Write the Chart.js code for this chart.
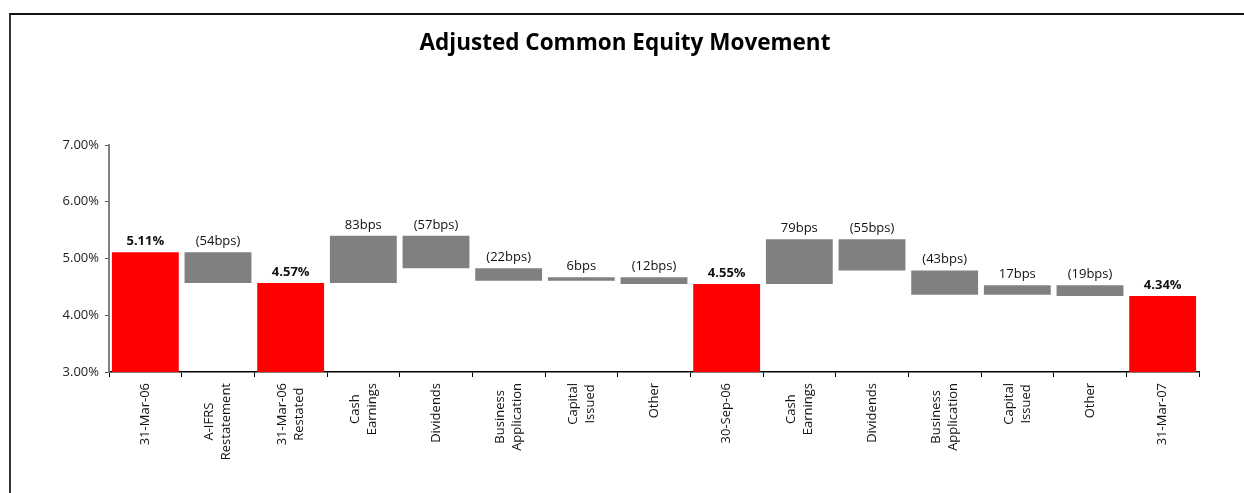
<!DOCTYPE html>
<html>
<head>
<meta charset="utf-8">
<script src="https://cdn.jsdelivr.net/npm/chart.js@4/dist/chart.umd.min.js"></script>
<style>
  html, body { margin: 0; padding: 0; background: #fff; overflow: hidden; }
  #wrap { position: relative; width: 1244px; height: 493px; }
  #frame { position: absolute; left: 9px; top: 13px; width: 1300px; height: 600px;
           border-left: 2px solid #333; border-top: 2px solid #111; box-sizing: border-box; }
  canvas { position: absolute; left: 0; top: 0; }
</style>
</head>
<body>
<div id="wrap">
  <div id="frame"></div>
  <canvas id="c" width="1244" height="493"></canvas>
</div>
<script>
// ---- data ----
const chartTitle = 'Adjusted Common Equity Movement';
const categories = [
  ["31-Mar-06"], ["A-IFRS", "Restatement"], ["31-Mar-06", "Restated"],
  ["Cash", "Earnings"], ["Dividends"], ["Business", "Application"],
  ["Capital", "Issued"], ["Other"], ["30-Sep-06"],
  ["Cash", "Earnings"], ["Dividends"], ["Business", "Application"],
  ["Capital", "Issued"], ["Other"], ["31-Mar-07"]
];
// floating bar start / end values (%)
const barStart = [0, 5.11, 0, 4.57, 5.40, 4.83, 4.61, 4.67, 0, 4.55, 5.34, 4.79, 4.36, 4.53, 0];
const barEnd   = [5.11, 4.57, 4.57, 5.40, 4.83, 4.61, 4.67, 4.55, 4.55, 5.34, 4.79, 4.36, 4.53, 4.34, 4.34];
const isTotal  = [true, false, true, false, false, false, false, false, true, false, false, false, false, false, true];
const valueLabels = ["5.11%", "(54bps)", "4.57%", "83bps", "(57bps)", "(22bps)", "6bps", "(12bps)",
                     "4.55%", "79bps", "(55bps)", "(43bps)", "17bps", "(19bps)", "4.34%"];
const yTicks = [3, 4, 5, 6, 7];

const FONT = "'Open Sans', sans-serif";

const floatData = barStart.map((s, i) => [s, barEnd[i]]);
const colors = isTotal.map(t => t ? '#FF0000' : '#808080');

const labelPlugin = {
  id: 'labelPlugin',
  afterDraw(chart) {
    const ctx = chart.ctx;
    const xs = chart.scales.x, ys = chart.scales.y;
    ctx.save();
    // title
    ctx.fillStyle = '#000';
    ctx.font = 'bold 22.5px ' + FONT;
    ctx.textAlign = 'center';
    ctx.textBaseline = 'alphabetic';
    ctx.fillText(chartTitle, 625, 49.5);
    // value labels above bars
    ctx.fillStyle = '#111';
    floatData.forEach((d, i) => {
      const top = ys.getPixelForValue(Math.max(d[0], d[1]));
      const x = xs.getPixelForValue(i);
      ctx.font = (isTotal[i] ? 'bold ' : '') + '13px ' + FONT;
      ctx.fillText(valueLabels[i], x, top - 7);
    });
    // rotated category labels, lines centred on each other
    ctx.font = '13px ' + FONT;
    ctx.fillStyle = '#111';
    const yTop = xs.top + 11;
    const lh = 17;
    categories.forEach((lines, i) => {
      const x = xs.getPixelForValue(i);
      const maxW = Math.max(...lines.map(l => ctx.measureText(l).width));
      ctx.save();
      ctx.translate(x, yTop);
      ctx.rotate(-Math.PI / 2);
      ctx.textAlign = 'center';
      ctx.textBaseline = 'middle';
      lines.forEach((l, j) => {
        ctx.fillText(l, -maxW / 2, (j - (lines.length - 1) / 2) * lh);
      });
      ctx.restore();
    });
    ctx.restore();
  }
};

new Chart(document.getElementById('c'), {
  type: 'bar',
  data: {
    labels: categories.map(c => c.join(' ')),
    datasets: [{
      data: floatData,
      backgroundColor: colors,
      borderWidth: 0,
      barPercentage: 0.92,
      categoryPercentage: 1.0
    }]
  },
  options: {
    responsive: false,
    animation: false,
    devicePixelRatio: 1,
    layout: { padding: { left: 0, right: 45, top: 145, bottom: 0 } },
    plugins: {
      legend: { display: false },
      tooltip: { enabled: false },
      title: { display: false }
    },
    scales: {
      x: {
        type: 'category',
        offset: true,
        ticks: { display: false },
        grid: { display: true, offset: true, drawOnChartArea: false, drawTicks: true, tickLength: 5, color: '#000', lineWidth: 1 },
        border: { display: true, color: '#000', width: 1.5 },
        afterFit(scale) { scale.height = 121; }
      },
      y: {
        min: 3, max: 7,
        afterBuildTicks(scale) { scale.ticks = yTicks.map(v => ({ value: v })); },
        ticks: {
          color: '#222',
          font: { family: FONT, size: 13 },
          padding: 6,
          callback: v => v.toFixed(2) + '%'
        },
        grid: { display: true, drawOnChartArea: false, drawTicks: true, tickLength: 4, color: '#555', lineWidth: 1 },
        border: { display: true, color: '#808080', width: 2 },
        afterFit(scale) { scale.width = 109; }
      }
    }
  },
  plugins: [labelPlugin]
});
</script>
</body>
</html>
